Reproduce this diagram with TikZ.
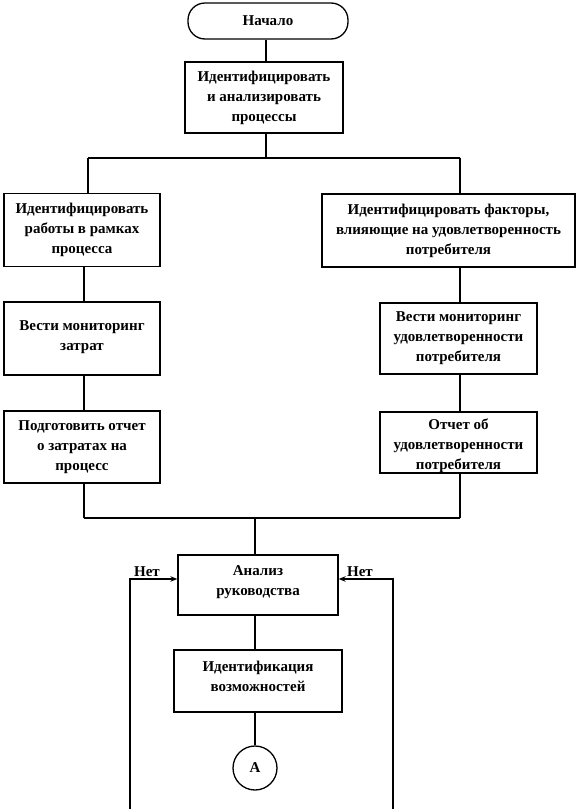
\documentclass[tikz,border=0pt]{standalone}
\usepackage{fontspec}
\setmainfont{Liberation Serif}
\usetikzlibrary{arrows.meta}
\newcommand\liftup[2]{\raisebox{#1}[\height][\depth]{\begin{tabular}{@{}c@{}}#2\end{tabular}}}
\begin{document}
\begin{tikzpicture}[x=1pt,y=1pt,
  box/.style={draw,line width=1.3pt,align=center,inner sep=2pt,font=\bfseries\fontsize{15}{20}\selectfont},
  term/.style={box,rounded corners=17pt},
  conn/.style={line width=1.6pt},
  lbl/.style={font=\bfseries\fontsize{15}{17}\selectfont,inner sep=1pt},
  arr/.style={conn,-{Stealth[length=7pt,width=5.5pt]}}]
\useasboundingbox (0,0) rectangle (577,-809);
\node[term,minimum width=160pt,minimum height=36pt] (start) at (268,-21) {Начало};
\node[box,minimum width=158pt,minimum height=71pt] (b1) at (264,-97.5) {Идентифицировать\\и анализировать\\процессы};
\node[box,minimum width=156pt,minimum height=73pt] (L1) at (82,-230) {Идентифицировать\\работы в рамках\\процесса};
\node[box,minimum width=156pt,minimum height=73pt] (L2) at (82,-338.5) {\liftup{2pt}{Вести мониторинг\\затрат}};
\node[box,minimum width=156pt,minimum height=72pt] (L3) at (82,-447) {Подготовить отчет\\о затратах на\\процесс};
\node[box,minimum width=253pt,minimum height=73pt] (R1) at (448.5,-230.5) {Идентифицировать факторы,\\влияющие на удовлетворенность\\потребителя};
\node[box,minimum width=157pt,minimum height=71pt] (R2) at (458.5,-338.5) {Вести мониторинг\\удовлетворенности\\потребителя};
\node[box,minimum width=157pt,minimum height=61pt,inner ysep=0pt] (R3) at (458.5,-442.5) {\liftup{-3pt}{Отчет об\\удовлетворенности\\потребителя}};
\node[box,minimum width=160pt,minimum height=60pt] (A1) at (258,-585) {\liftup{4pt}{Анализ\\руководства}};
\node[box,minimum width=168pt,minimum height=62pt] (A2) at (258,-681) {\liftup{4pt}{Идентификация\\возможностей}};
\node[box,circle,minimum size=44pt,inner sep=0pt] (A) at (255,-768) {А};
% junction coordinates
\coordinate (topL) at (88,-158);
\coordinate (topR) at (460,-158);
\coordinate (topM) at (266,-158);
\coordinate (botL) at (84,-518);
\coordinate (botR) at (460,-518);
\coordinate (botM) at (255,-518);
\coordinate (fbL) at (130,-809);
\coordinate (fbLc) at (130,-579);
\coordinate (fbR) at (393,-809);
\coordinate (fbRc) at (393,-579);
% connectors
\draw[conn] (start.south -| topM) -- (b1.north -| topM);
\draw[conn] (b1.south -| topM) -- (topM);
\draw[conn] (topL) -- (topR);
\draw[conn] (topL) -- (L1.north -| topL);
\draw[conn] (topR) -- (R1.north -| topR);
\draw[conn] (L1.south -| botL) -- (L2.north -| botL);
\draw[conn] (L2.south -| botL) -- (L3.north -| botL);
\draw[conn] (L3.south -| botL) -- (botL);
\draw[conn] (R1.south -| topR) -- (R2.north -| topR);
\draw[conn] (R2.south -| topR) -- (R3.north -| topR);
\draw[conn] (R3.south -| topR) -- (botR);
\draw[conn] (botL) -- (botR);
\draw[conn] (botM) -- (A1.north -| botM);
\draw[conn] (A1.south -| botM) -- (A2.north -| botM);
\draw[conn] (A2.south -| botM) -- (A);
\draw[arr] (fbL) -- (fbLc) -- (A1.west |- fbLc);
\draw[arr] (fbR) -- (fbRc) -- (A1.east |- fbRc);
\node[lbl] (nL) at (147,-572) {Нет};
\node[lbl] (nR) at (360,-572) {Нет};
\end{tikzpicture}
\end{document}
